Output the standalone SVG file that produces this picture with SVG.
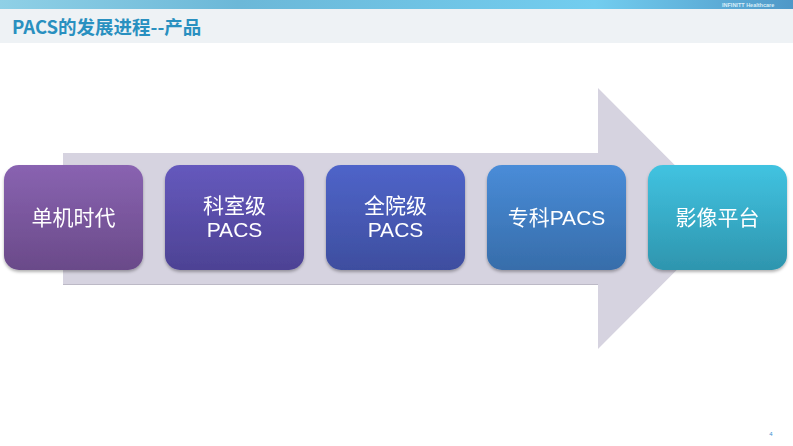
<svg xmlns="http://www.w3.org/2000/svg" width="793" height="446" viewBox="0 0 793 446">
<style>
.lbl{font-family:"Liberation Sans","Noto Sans CJK SC",sans-serif;font-size:21px;fill:#ffffff;text-anchor:middle}
.box{filter:url(#sh)}
</style>
<defs>
<linearGradient id="top" x1="0" y1="0" x2="1" y2="0">
<stop offset="0" stop-color="#8fd0e6"/><stop offset="0.3" stop-color="#6cb8d8"/><stop offset="0.75" stop-color="#72cdef"/><stop offset="1" stop-color="#4f98c8"/>
</linearGradient>
<linearGradient id="g1" x1="0" y1="0" x2="0" y2="1"><stop offset="0" stop-color="#8963b1"/><stop offset="1" stop-color="#6a4a89"/></linearGradient>
<linearGradient id="g2" x1="0" y1="0" x2="0" y2="1"><stop offset="0" stop-color="#6559bd"/><stop offset="1" stop-color="#4d4294"/></linearGradient>
<linearGradient id="g3" x1="0" y1="0" x2="0" y2="1"><stop offset="0" stop-color="#4f64c9"/><stop offset="1" stop-color="#3e4e9f"/></linearGradient>
<linearGradient id="g4" x1="0" y1="0" x2="0" y2="1"><stop offset="0" stop-color="#498cd8"/><stop offset="1" stop-color="#376daa"/></linearGradient>
<linearGradient id="g5" x1="0" y1="0" x2="0" y2="1"><stop offset="0" stop-color="#41c3e1"/><stop offset="1" stop-color="#2e95ae"/></linearGradient>
<filter id="sh" x="-10%" y="-10%" width="120%" height="130%"><feDropShadow dx="0" dy="2" stdDeviation="1.5" flood-color="#000" flood-opacity="0.3"/></filter>
</defs>
<rect x="0" y="0" width="793" height="446" fill="#ffffff"/>
<rect x="0" y="0" width="793" height="9" fill="url(#top)"/>
<rect x="0" y="9" width="793" height="34" fill="#eef2f5"/>
<text x="722" y="6.5" font-family="Liberation Sans,sans-serif" font-size="5.5" font-weight="bold" fill="#d8eef8">INFINITT Healthcare</text>
<text x="12" y="34" font-family="'Noto Sans CJK SC',sans-serif" font-size="18.5" font-weight="bold" fill="#2990c0">PACS的发展进程--产品</text>
<g id="connectors">
<polygon points="63,153 598,153 598,88 728,218.5 598,349 598,284 63,284" fill="#d6d3e0"/>
<line x1="63" y1="284.5" x2="598" y2="284.5" stroke="#bcb9c6" stroke-width="1"/>
</g>
<g id="n1" class="box"><rect x="4" y="165" width="139" height="105" rx="15" fill="url(#g1)"/><text class="lbl" x="73.5" y="225">单机时代</text></g>
<g id="n2" class="box"><rect x="165" y="165" width="139" height="105" rx="15" fill="url(#g2)"/><text class="lbl" x="234.5" y="213">科室级</text><text class="lbl" x="234.5" y="237">PACS</text></g>
<g id="n3" class="box"><rect x="326" y="165" width="139" height="105" rx="15" fill="url(#g3)"/><text class="lbl" x="395.5" y="213">全院级</text><text class="lbl" x="395.5" y="237">PACS</text></g>
<g id="n4" class="box"><rect x="487" y="165" width="139" height="105" rx="15" fill="url(#g4)"/><text class="lbl" x="556.5" y="225">专科PACS</text></g>
<g id="n5" class="box"><rect x="648" y="165" width="139" height="105" rx="15" fill="url(#g5)"/><text class="lbl" x="717.5" y="225">影像平台</text></g>
<text x="771" y="436" font-family="Liberation Sans,sans-serif" font-size="6" fill="#3a8fd0" text-anchor="middle">4</text>
</svg>
